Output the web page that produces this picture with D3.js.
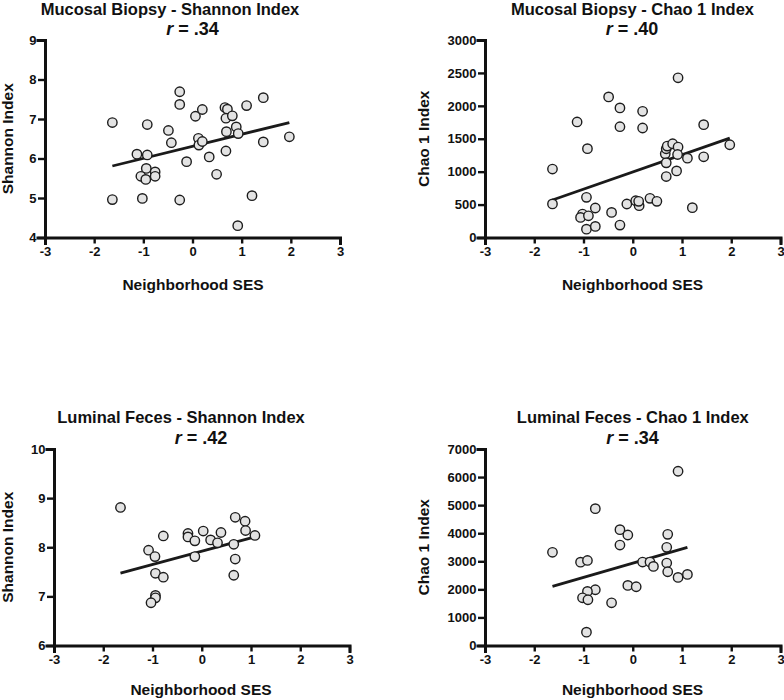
<!DOCTYPE html>
<html>
<head>
<meta charset="utf-8">
<script src="https://cdn.jsdelivr.net/npm/d3@7"></script>
<style>
  html, body { margin: 0; padding: 0; background: #fff; }
  svg { display: block; }
  text { font-family: "Liberation Sans", Arial, Helvetica, sans-serif; font-weight: bold; fill: #111; }
</style>
</head>
<body>
<svg id="chart" width="784" height="700"></svg>
<script>
// ---- Data ----
const xTicks = [-3, -2, -1, 0, 1, 2, 3];

// Panel 1: Mucosal Biopsy - Shannon Index
const mbShannonX = [-1.63, -1.63, -1.13, -0.92, -0.92, -0.94, -1.05, -0.95, -0.76, -0.76, -1.02, -0.49, -0.43, -0.26, -0.26, -0.12, -0.26, 0.06, 0.20, 0.12, 0.13, 0.20, 0.34, 0.49, 0.66, 0.71, 0.68, 0.81, 0.89, 0.69, 0.93, 0.68, 1.10, 1.44, 1.44, 1.97, 1.21, 0.92];
const mbShannonY = [6.91, 4.96, 6.11, 6.86, 6.09, 5.75, 5.55, 5.47, 5.66, 5.55, 4.99, 6.71, 6.40, 7.69, 7.37, 5.92, 4.95, 7.07, 7.24, 6.51, 6.34, 6.43, 6.04, 5.60, 7.29, 7.25, 7.02, 7.08, 6.80, 6.68, 6.63, 6.19, 7.34, 7.54, 6.42, 6.55, 5.06, 4.30];
const mbShannonTicks = [4, 5, 6, 7, 8, 9];

// Panel 2: Mucosal Biopsy - Chao 1 Index
const mbChaoX = [-1.63, -1.63, -1.13, -0.92, -0.94, -1.02, -1.06, -0.90, -0.76, -0.94, -0.76, -0.49, -0.43, -0.26, -0.26, -0.12, -0.26, 0.20, 0.20, 0.06, 0.13, 0.12, 0.35, 0.49, 0.66, 0.68, 0.70, 0.81, 0.92, 0.91, 0.68, 0.68, 0.89, 0.92, 1.11, 1.44, 1.44, 1.97, 1.21];
const mbChaoY = [1040, 510, 1755, 1350, 610, 356, 305, 330, 448, 127, 168, 2136, 381, 1968, 1683, 509, 188, 1917, 1663, 559, 483, 549, 595, 549, 1271, 1348, 1388, 1424, 1373, 1261, 1134, 926, 1012, 2426, 1205, 1714, 1226, 1409, 453];
const mbChaoTicks = [0, 500, 1000, 1500, 2000, 2500, 3000];

// Panel 3: Luminal Feces - Shannon Index
const lfShannonX = [-1.65, -1.08, -0.95, -0.78, -0.94, -0.78, -0.94, -0.94, -1.03, -0.28, -0.28, -0.14, -0.14, 0.03, 0.18, 0.32, 0.39, 0.68, 0.65, 0.68, 0.65, 0.88, 0.89, 1.08];
const lfShannonY = [8.81, 7.94, 7.81, 8.23, 7.47, 7.39, 7.02, 6.97, 6.87, 8.28, 8.21, 8.13, 7.81, 8.33, 8.15, 8.09, 8.30, 8.61, 8.06, 7.76, 7.43, 8.53, 8.34, 8.24];
const lfShannonTicks = [6, 7, 8, 9, 10];

// Panel 4: Luminal Feces - Chao 1 Index
const lfChaoX = [-1.63, -1.06, -0.92, -0.76, -0.76, -0.92, -1.02, -0.91, -0.94, -0.43, -0.26, -0.26, -0.10, -0.10, 0.07, 0.20, 0.35, 0.42, 0.71, 0.69, 0.69, 0.71, 0.92, 0.92, 1.11];
const lfChaoY = [3320, 2970, 3030, 4875, 1986, 1926, 1700, 1629, 476, 1522, 4126, 3579, 3936, 2140, 2093, 2973, 2973, 2818, 3959, 3496, 2937, 2628, 6207, 2426, 2533];
const lfChaoTicks = [0, 1000, 2000, 3000, 4000, 5000, 6000, 7000];

// Regression fits (intercept, slope)
const fitIntercepts = [6.308, 995, 7.92, 2932];
const fitSlopes = [0.3056, 261, 0.27, 507.7];

const titles = ["Mucosal Biopsy - Shannon Index", "Mucosal Biopsy - Chao 1 Index", "Luminal Feces - Shannon Index", "Luminal Feces - Chao 1 Index"];
const rValues = [".34", ".40", ".42", ".34"];
const yLabels = ["Shannon Index", "Chao 1 Index", "Shannon Index", "Chao 1 Index"];
const xLabel = "Neighborhood SES";

// ---- Layout ----
const layout = [
  { x0: 45, x1: 340, yb: 237.5, yt: 40, titleX: 170, titleY: 15, rX: 192.5, rY: 35, ylabX: 13.3, xlabX: 193, xlabY: 290 },
  { x0: 485, x1: 780.5, yb: 237.5, yt: 40, titleX: 632.5, titleY: 15, rX: 632, rY: 35, ylabX: 428.5, xlabX: 632.5, xlabY: 290 },
  { x0: 54, x1: 349.5, yb: 645.5, yt: 449, titleX: 181, titleY: 423, rX: 201, rY: 444, ylabX: 13.3, xlabX: 201, xlabY: 695 },
  { x0: 485, x1: 780.5, yb: 645.5, yt: 449, titleX: 632.8, titleY: 423, rX: 632.5, rY: 444, ylabX: 428.5, xlabX: 632.5, xlabY: 695 }
];

const panels = [
  { xs: mbShannonX, ys: mbShannonY, ticks: mbShannonTicks },
  { xs: mbChaoX, ys: mbChaoY, ticks: mbChaoTicks },
  { xs: lfShannonX, ys: lfShannonY, ticks: lfShannonTicks },
  { xs: lfChaoX, ys: lfChaoY, ticks: lfChaoTicks }
];

const svg = d3.select("#chart");
const fmt = d => String(d); // plain hyphen-minus, as in the reference

panels.forEach((p, i) => {
  const L = layout[i];
  const x = d3.scaleLinear().domain([-3, 3]).range([L.x0, L.x1]);
  const y = d3.scaleLinear().domain([p.ticks[0], p.ticks[p.ticks.length - 1]]).range([L.yb, L.yt]);
  const g = svg.append("g");

  // Axes
  const xAxis = d3.axisBottom(x).tickValues(xTicks).tickFormat(fmt).tickSizeOuter(0).tickSize(6).tickPadding(3);
  const yAxis = d3.axisLeft(y).tickValues(p.ticks).tickFormat(fmt).tickSizeOuter(0).tickSize(7).tickPadding(1.5);

  const gx = g.append("g").attr("transform", `translate(0,${L.yb})`).call(xAxis);
  const gy = g.append("g").attr("transform", `translate(${L.x0},0)`).call(yAxis);
  [gx, gy].forEach(a => {
    a.attr("font-size", 13).attr("font-family", '"Liberation Sans", Arial, Helvetica, sans-serif').attr("font-weight", "bold");
    a.select(".domain").attr("stroke", "#111").attr("stroke-width", 3).attr("stroke-linecap", "square");
    a.selectAll(".tick line").attr("stroke", "#111").attr("stroke-width", 2.4);
    a.selectAll(".tick text").attr("fill", "#111").style("font-size", "13px").style("font-weight", "bold")
      .style("font-family", '"Liberation Sans", Arial, Helvetica, sans-serif');
  });

  // Regression line over data x-extent
  const [xmin, xmax] = d3.extent(p.xs);
  const fit = xv => fitIntercepts[i] + fitSlopes[i] * xv;
  g.append("line")
    .attr("x1", x(xmin)).attr("y1", y(fit(xmin)))
    .attr("x2", x(xmax)).attr("y2", y(fit(xmax)))
    .attr("stroke", "#1a1a1a").attr("stroke-width", 2.8);

  // Points
  g.append("g").selectAll("circle")
    .data(p.xs.map((xv, k) => [xv, p.ys[k]]))
    .join("circle")
    .attr("cx", d => x(d[0]))
    .attr("cy", d => y(d[1]))
    .attr("r", 4.7)
    .attr("fill", "#e3e3e3")
    .attr("stroke", "#1c1c1c")
    .attr("stroke-width", 1.4);

  // Titles
  g.append("text").attr("x", L.titleX).attr("y", L.titleY).attr("text-anchor", "middle")
    .style("font-size", "16.5px").text(titles[i]);
  const rt = g.append("text").attr("x", L.rX).attr("y", L.rY).attr("text-anchor", "middle").style("font-size", "18px");
  rt.append("tspan").style("font-style", "italic").text("r");
  rt.append("tspan").text(" = " + rValues[i]);

  // Axis labels
  g.append("text").attr("x", L.xlabX).attr("y", L.xlabY).attr("text-anchor", "middle")
    .style("font-size", "15.5px").text(xLabel);
  const ymid = (L.yb + L.yt) / 2;
  g.append("text").attr("transform", `translate(${L.ylabX},${ymid}) rotate(-90)`).attr("text-anchor", "middle")
    .style("font-size", "15.5px").text(yLabels[i]);
});
</script>
</body>
</html>
